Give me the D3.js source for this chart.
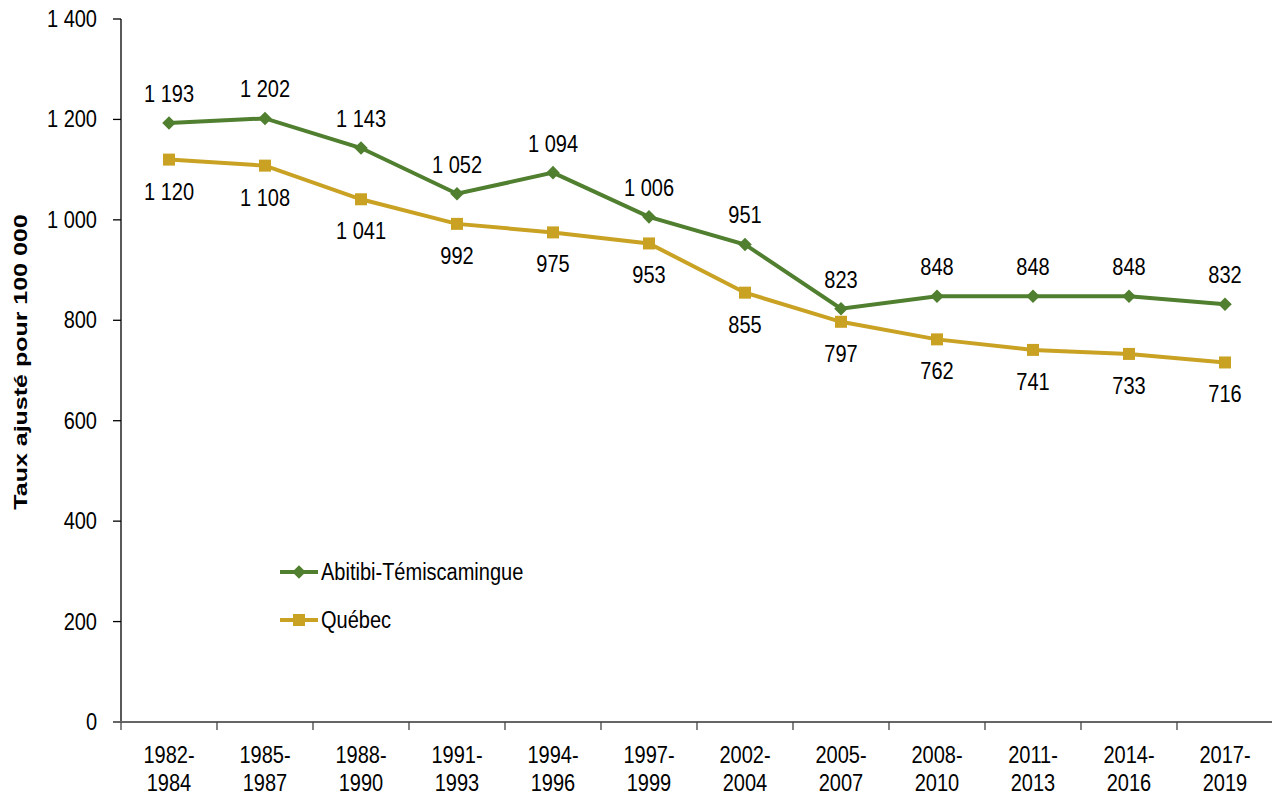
<!DOCTYPE html>
<html><head><meta charset="utf-8">
<script src="https://cdn.jsdelivr.net/npm/d3@7"></script>
<style>body{margin:0;background:#fff}svg{display:block}</style>
</head><body><svg id="c" width="1272" height="798"></svg>
<script>
const categories = ["1982-1984","1985-1987","1988-1990","1991-1993","1994-1996","1997-1999","2002-2004","2005-2007","2008-2010","2011-2013","2014-2016","2017-2019"];
const abitibi = [1193,1202,1143,1052,1094,1006,951,823,848,848,848,832];
const quebec = [1120,1108,1041,992,975,953,855,797,762,741,733,716];
const yTicks = [0,200,400,600,800,1000,1200,1400];
const seriesNames = ["Abitibi-Témiscamingue","Québec"];

const fmt = v => { const s = String(v); return s.length > 3 ? s.slice(0, s.length-3) + " " + s.slice(-3) : s; };
const svg = d3.select("#c");
const FONT = "'Liberation Sans', Arial, sans-serif";
const SX = 0.87, FS = 23;
const green = "#4f7f2f", gold = "#c9a224";

const x = d3.scaleBand().domain(categories).range([121, 1273]);
const y = d3.scaleLinear().domain([0, 1400]).range([722, 19]);

function txt(g, tx, ty, s, anchor, opts={}) {
  return g.append("text").attr("transform", `translate(${tx},${ty}) scale(${SX},1)`)
    .attr("text-anchor", anchor).attr("dominant-baseline", "central")
    .attr("font-family", FONT).attr("font-size", opts.size || FS)
    .attr("font-weight", opts.weight || "normal").attr("fill", "#000").text(s);
}

// y axis
svg.append("line").attr("x1",121).attr("x2",121).attr("y1",y(1400)).attr("y2",y(0)).attr("stroke","#000").attr("stroke-width",1.3);
yTicks.forEach(t => {
  svg.append("line").attr("x1",113).attr("x2",121).attr("y1",y(t)).attr("y2",y(t)).attr("stroke","#000").attr("stroke-width",1.3);
  txt(svg, 97, y(t), fmt(t), "end");
});
// x axis
svg.append("line").attr("x1",113).attr("x2",1272).attr("y1",y(0)).attr("y2",y(0)).attr("stroke","#666").attr("stroke-width",2);
categories.forEach((c,i) => {
  const bx = x(c);
  svg.append("line").attr("x1",bx).attr("x2",bx).attr("y1",y(0)).attr("y2",y(0)+8).attr("stroke","#444").attr("stroke-width",1.3);
  const [a,b] = c.split("-");
  const cx = bx + x.bandwidth()/2;
  txt(svg, cx, 755, a + "-", "middle");
  txt(svg, cx, 783, b, "middle");
});

// axis title
svg.append("text").attr("transform","translate(21,362) rotate(-90) scale(1,0.75)")
  .attr("text-anchor","middle").attr("dominant-baseline","central")
  .attr("font-family",FONT).attr("font-size",25).attr("font-weight","bold").text("Taux ajusté pour 100 000");

const cxOf = (i) => x(categories[i]) + x.bandwidth()/2;
const line = d3.line().x((d,i)=>cxOf(i)).y(d=>y(d));

svg.append("path").datum(quebec).attr("d",line).attr("fill","none").attr("stroke",gold).attr("stroke-width",4);
svg.append("path").datum(abitibi).attr("d",line).attr("fill","none").attr("stroke",green).attr("stroke-width",4);

function drawDiamond(g, cx, cy) {
  g.append("path").attr("d", d3.symbol().type(d3.symbolSquare).size(92)()).attr("transform",`translate(${cx},${cy}) rotate(45)`).attr("fill",green);
}
function drawSquare(g, cx, cy) {
  g.append("rect").attr("x",cx-6).attr("y",cy-6).attr("width",12).attr("height",12).attr("fill",gold);
}
quebec.forEach((v,i) => { drawSquare(svg, cxOf(i), y(v)); });
abitibi.forEach((v,i) => { drawDiamond(svg, cxOf(i), y(v)); });

abitibi.forEach((v,i) => txt(svg, cxOf(i), y(v) - 29, fmt(v), "middle"));
quebec.forEach((v,i) => txt(svg, cxOf(i), y(v) + 32, fmt(v), "middle"));

// legend
const lg = [[seriesNames[0], green, 572, drawDiamond],[seriesNames[1], gold, 620, drawSquare]];
lg.forEach(([n,col,ly,fn]) => {
  svg.append("line").attr("x1",280).attr("x2",318).attr("y1",ly).attr("y2",ly).attr("stroke",col).attr("stroke-width",4);
  fn(svg, 299, ly);
  txt(svg, 321, ly, n, "start");
});
</script></body></html>
